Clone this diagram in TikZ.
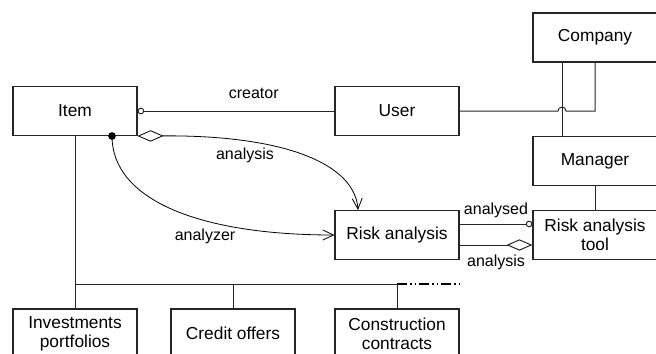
\documentclass[tikz,border=0pt]{standalone}
\usepackage{fontspec}
\setmainfont{Liberation Sans}
\usetikzlibrary{arrows.meta}
\tikzset{
    %Define style for class boxes
    cls/.style={
           rectangle,
           draw=black!85, line width=0.8pt,
           minimum width=93pt,
           minimum height=36.75pt,
           inner sep=0pt,
           align=center,
           font=\fontsize{13}{14.3}\selectfont},
    %Define style for link labels
    lbl/.style={
           inner sep=0pt,
           font=\fontsize{12}{14}\selectfont},
    % Define link styles
    assoc/.style={draw=black!85, line width=0.75pt},
    curve/.style={draw=black, line width=0.6pt},
    navi/.style={-{Straight Barb[length=8pt,width=7.5pt]}},
    aggrnavi/.style={{Diamond[open,length=19.5pt,width=8.5pt]}-{Straight Barb[length=8pt,width=7.5pt]}},
    aggrend/.style={-{Diamond[open,length=19.5pt,width=8.5pt]}},
    ring/.style={{Circle[open,length=5pt]}-},
    ringend/.style={-{Circle[open,length=5pt]}},
    split/.style={draw=black, line width=1.6pt,
           dash pattern=on 7.5pt off 2.25pt on 1.2pt off 2.25pt on 1.2pt off 2.25pt}
}
\begin{document}
\begin{tikzpicture}[x=0.75pt,y=-0.75pt]
\useasboundingbox (0,0) rectangle (656,353);
\clip (0,0) rectangle (656,353);
\node[cls] (item) at (75,111) {Item};
\node[cls] (user) at (397,111) {User};
\node[cls] (company) at (595,37.5) {Company};
\node[cls] (manager) at (595,161) {Manager};
\node[cls] (risk) at (397,235) {Risk analysis};
\node[cls] (tool) at (595,235) {Risk analysis\\tool};
\node[cls] (invest) at (75,333.5) {Investments\\portfolios};
\node[cls] (credit) at (233,333.5) {Credit offers};
\node[cls] (constr) at (397,333.5) {Construction\\contracts};
\coordinate (cm) at ([xshift=-24.75pt]company.south);
\coordinate (hop) at (cm |- user.east);
\coordinate (dot) at (112,136);
\coordinate (tee) at (75,284);
\coordinate (busend) at (460,284);
% item and user
\draw[assoc,ring] (item.east) -- node[lbl,pos=0.59,above=9pt]{creator} (user.east -| user.west);
\draw[assoc] (user.east) -- ([xshift=-3pt]hop) arc[start angle=180,end angle=360,radius=4]
	-- (company.south |- user.east) -- (company.south);
\draw[assoc] (cm) -- (cm |- manager.north);
\draw[assoc] (manager) -- (tool);
% risk analysis links
\draw[assoc,ringend] ([yshift=8.25pt]risk.east) -- node[lbl,above=4.5pt]{analysed} ([yshift=8.25pt]tool.west);
\draw[assoc,aggrend] ([yshift=-7.5pt]risk.east) -- node[lbl,below=7pt]{analysis} ([yshift=-7.5pt]tool.west);
\draw[curve,aggrnavi] (item.south east) .. controls +(150,-1) and +(-3,-45) .. ([xshift=-29.25pt]risk.north);
\node[lbl] at (245,155) {analysis};
\fill (dot) circle (2.9pt);
\draw[curve,navi] (dot) .. controls +(0,64) and +(-135,0) .. (risk.west);
\node[lbl] at (205,236) {analyzer};
% subclasses
\draw[assoc] (item.south) -- (invest.north);
\draw[assoc] (tee) -- (constr.north |- tee);
\draw[assoc] (credit.north |- tee) -- (credit.north);
\draw[assoc] (constr.north |- tee) -- (constr.north);
\draw[split] (constr.north |- tee) -- (busend);
\end{tikzpicture}
\end{document}
